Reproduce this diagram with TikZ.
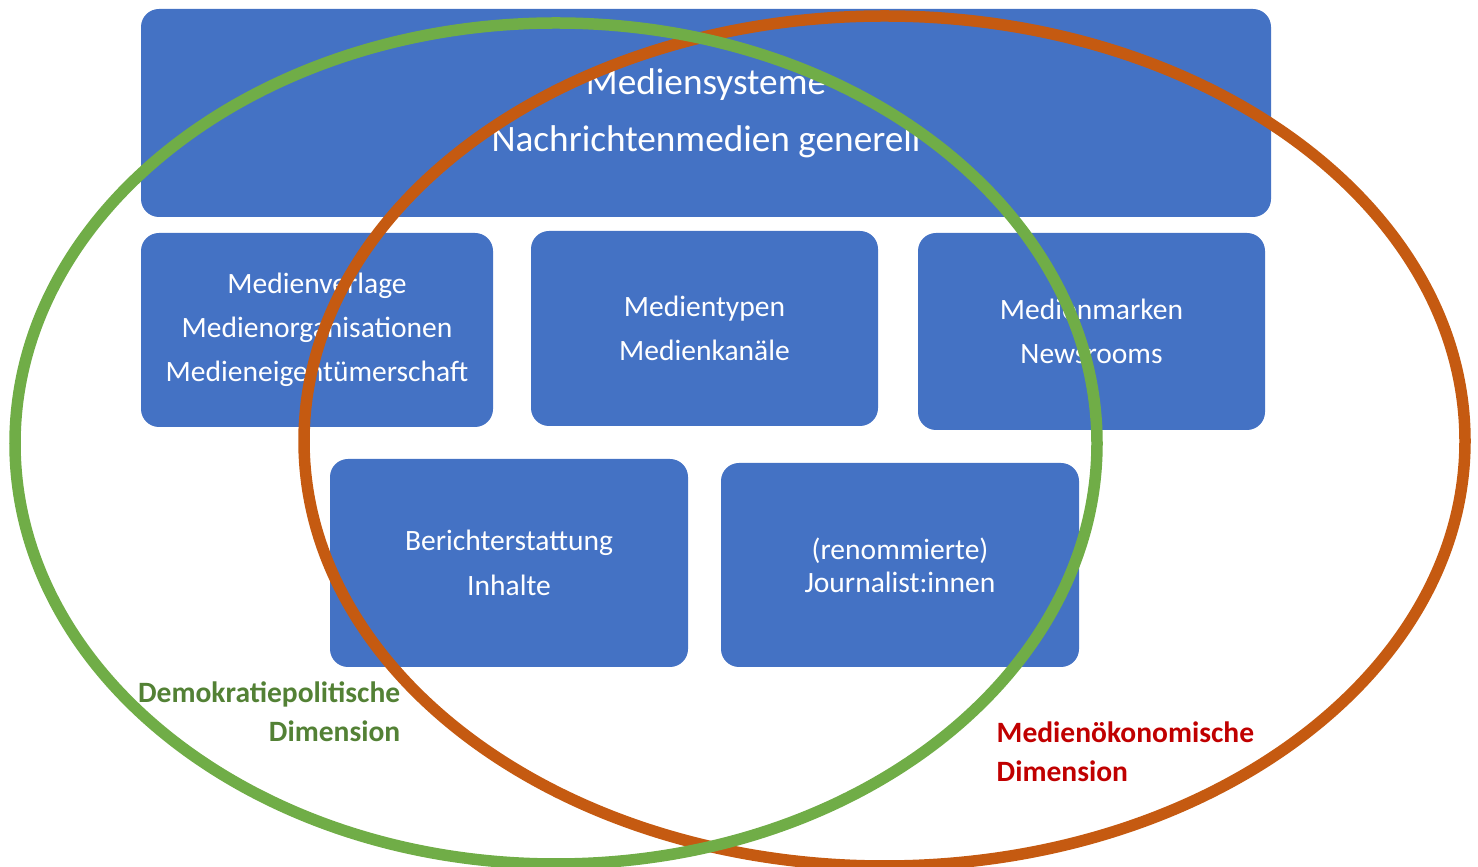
\documentclass[tikz,border=0pt]{standalone}
\usepackage{fontspec}
\setmainfont{Carlito}
\definecolor{boxblue}{HTML}{4472C4}
\definecolor{ringgreen}{HTML}{70AD47}
\definecolor{ringorange}{HTML}{C55A11}
\definecolor{labelgreen}{HTML}{538135}
\definecolor{labelred}{HTML}{C00000}

\begin{document}
\begin{tikzpicture}[line cap=round, line join=round,
  mediabox/.style={fill=boxblue, draw=none, rounded corners=0.18cm, text=white,
    align=center, inner sep=0pt, font=\fontsize{8.4}{12.6}\selectfont},
  ring/.style={line width=0.115cm},
  dimlabel/.style={font=\fontsize{8.4}{11.1}\selectfont\bfseries, inner sep=0pt}]

\useasboundingbox (0,0) rectangle (14.78,8.66);

% blue boxes
\node[mediabox, minimum width=11.30cm, minimum height=2.08cm, font=\fontsize{10.6}{16.2}\selectfont] (system) at (7.06,7.53) {Mediensysteme\\Nachrichtenmedien generell};
\node[mediabox, minimum width=3.52cm, minimum height=1.94cm] (verlage) at (3.17,5.36) {Medienverlage\\Medienorganisationen\\Medieneigentümerschaft};
\node[mediabox, minimum width=3.47cm, minimum height=1.95cm] (typen) at (7.045,5.375) {Medientypen\\Medienkanäle};
\node[mediabox, minimum width=3.47cm, minimum height=1.97cm] (marken) at (10.915,5.345) {Medienmarken\\Newsrooms};
\node[mediabox, minimum width=3.58cm, minimum height=2.08cm] (inhalte) at (5.09,3.03) {Berichterstattung\\Inhalte};
\node[mediabox, minimum width=3.58cm, minimum height=2.04cm, font=\fontsize{8.4}{9.4}\selectfont] (journal) at (9.00,3.01) {(renommierte)\\Journalist:innen};

% the two dimensions
\draw[ring, ringorange] (8.845,4.25) ellipse [x radius=5.805, y radius=4.25];
\draw[ring, ringgreen] (5.56,4.225) ellipse [x radius=5.41, y radius=4.205];

\node[dimlabel, text=labelgreen, align=right, anchor=east] (demo) at (4.01,1.54) {Demokratiepolitische\\Dimension};
\node[dimlabel, text=labelred, align=left, anchor=west] (oeko) at (9.96,1.145) {Medienökonomische\\Dimension};

\end{tikzpicture}
\end{document}
